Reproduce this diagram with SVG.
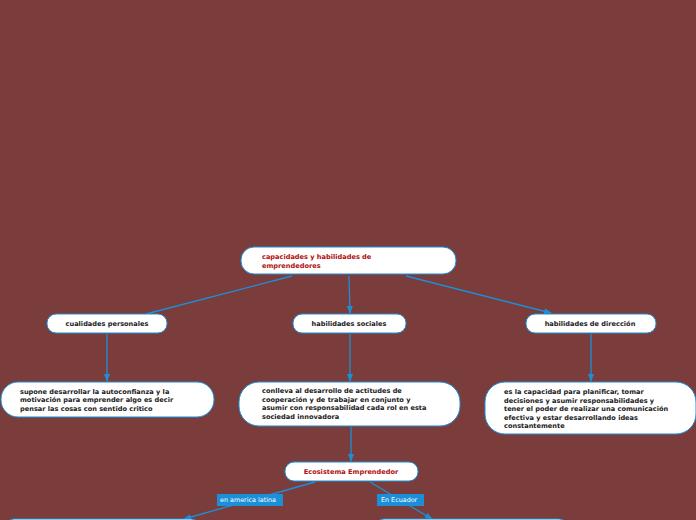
<svg xmlns="http://www.w3.org/2000/svg" width="696" height="520" viewBox="0 0 696 520">
<style>
.n{fill:#fff;stroke:#1b90d8;stroke-width:1}
.t{font-family:"DejaVu Sans",sans-serif;font-weight:bold;font-size:6.6px;fill:#222}
.r{fill:#b01010}
.c{stroke:#1b90d8;stroke-width:1.3;fill:none}
.lb{fill:#1b90d8}
.lt{font-family:"DejaVu Sans",sans-serif;font-size:6.4px;fill:#fff}
</style>
<defs><marker id="a" markerWidth="8" markerHeight="6" refX="7" refY="3" orient="auto" markerUnits="userSpaceOnUse"><path d="M0,0L8,3L0,6z" fill="#1b90d8"/></marker></defs>
<rect width="696" height="520" fill="#7b3c3c"/>
<g id="connectors">
<path class="c" d="M292,276L146,314"/>
<path class="c" d="M349,276L350,313" marker-end="url(#a)"/>
<path class="c" d="M406,276L551,313" marker-end="url(#a)"/>
<path class="c" d="M107,334V381" marker-end="url(#a)"/>
<path class="c" d="M350,334V381" marker-end="url(#a)"/>
<path class="c" d="M591,334V381" marker-end="url(#a)"/>
<path class="c" d="M351,427V461" marker-end="url(#a)"/>
<path class="c" d="M315,482L184,519" marker-end="url(#a)"/>
<path class="c" d="M370,482L432,519" marker-end="url(#a)"/>
</g>
<g id="n0"><rect class="n" x="241" y="247" width="215" height="27" rx="13"/><text class="t r" x="262" y="259">capacidades y habilidades de</text><text class="t r" x="262" y="268">emprendedores</text></g>
<g id="n1"><rect class="n" x="47" y="314" width="120" height="19" rx="9"/><text class="t" x="107" y="326" text-anchor="middle">cualidades personales</text></g>
<g id="n2"><rect class="n" x="293" y="314" width="113" height="19" rx="9"/><text class="t" x="349" y="326" text-anchor="middle">habilidades sociales</text></g>
<g id="n3"><rect class="n" x="526" y="314" width="130" height="19" rx="9"/><text class="t" x="590" y="326" text-anchor="middle">habilidades de dirección</text></g>
<g id="n4"><rect class="n" x="1" y="382" width="213" height="35" rx="17"/><text class="t" x="20" y="394">supone desarrollar la autoconfianza y la</text><text class="t" x="20" y="402">motivación para emprender algo es decir</text><text class="t" x="20" y="411">pensar las cosas con sentido critico</text></g>
<g id="n5"><rect class="n" x="239" y="382" width="221" height="44" rx="20"/><text class="t" x="262" y="393">conlleva al desarrollo de actitudes de</text><text class="t" x="262" y="402">cooperación y de trabajar en conjunto y</text><text class="t" x="262" y="410">asumir con responsabilidad cada rol en esta</text><text class="t" x="262" y="419">sociedad innovadora</text></g>
<g id="n6"><rect class="n" x="485" y="382" width="211" height="52" rx="20"/><text class="t" x="504" y="394">es la capacidad para planificar, tomar</text><text class="t" x="504" y="403">decisiones y asumir responsabilidades y</text><text class="t" x="504" y="411">tener el poder de realizar una comunicación</text><text class="t" x="504" y="420">efectiva  y estar desarrollando ideas</text><text class="t" x="504" y="428">constantemente</text></g>
<g id="n7"><rect class="n" x="285" y="462" width="133" height="19" rx="9"/><text class="t r" x="351" y="474" text-anchor="middle">Ecosistema Emprendedor</text></g>
<g id="l1"><rect class="lb" x="217" y="494" width="66" height="12"/><text class="lt" x="220" y="502">en america latina</text></g>
<g id="l2"><rect class="lb" x="377" y="494" width="47" height="12"/><text class="lt" x="381" y="502">En Ecuador</text></g>
<g id="n8"><rect class="n" x="5" y="519" width="195" height="20" rx="9"/></g>
<g id="n9"><rect class="n" x="375" y="519" width="193" height="20" rx="9"/></g>
</svg>
